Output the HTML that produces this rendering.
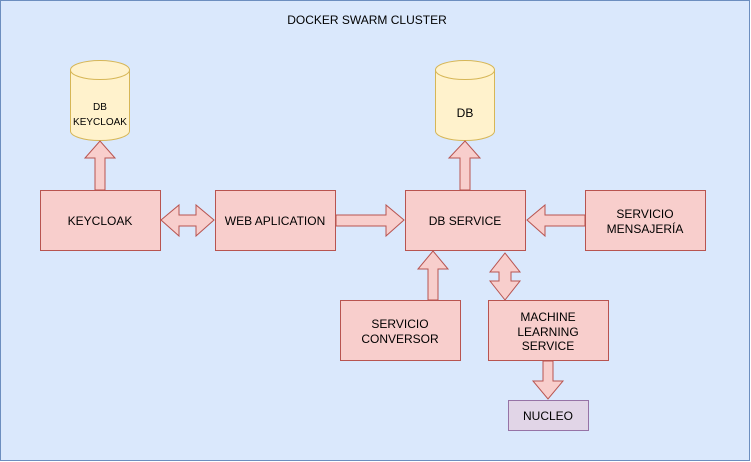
<!DOCTYPE html>
<html><head><meta charset="utf-8"><style>
html,body{margin:0;padding:0;background:#fff}
svg{display:block}
text{font-family:"Liberation Sans",Helvetica,sans-serif;font-size:12px;fill:#000}
</style></head><body>
<svg width="751" height="462" viewBox="0 0 751 462" xmlns="http://www.w3.org/2000/svg">
<rect x="0.5" y="0.5" width="749" height="460" fill="#dae8fc" stroke="#6c8ebf"/>
<text x="367" y="24" text-anchor="middle">DOCKER SWARM CLUSTER</text>

<g fill="#fff2cc" stroke="#d6b656">
<path d="M70.5 70 A29.5 9.5 0 0 1 129.5 70 L129.5 131 A29.5 9.5 0 0 1 70.5 131 Z"/>
<path d="M70.5 70 A29.5 9.5 0 0 0 129.5 70" fill="none"/>
<path d="M435.5 70 A29.5 9.5 0 0 1 494.5 70 L494.5 131 A29.5 9.5 0 0 1 435.5 131 Z"/>
<path d="M435.5 70 A29.5 9.5 0 0 0 494.5 70" fill="none"/>
</g>
<text x="100" y="110" text-anchor="middle" style="font-size:10px">DB</text>
<text x="100" y="125" text-anchor="middle" style="font-size:10px">KEYCLOAK</text>
<text x="465" y="117" text-anchor="middle">DB</text>

<g fill="#f8cecc" stroke="#b85450">
<!-- keycloak -> db keycloak -->
<path d="M95 190 L95 158 L85 158 L100 141 L115 158 L105 158 L105 190 Z"/>
<!-- db service -> db -->
<path d="M460 190 L460 158 L449 158 L465 141 L480 158 L470 158 L470 190 Z"/>
<!-- keycloak <-> web -->
<path d="M161 220 L179 205 L179 215 L196 215 L196 205 L214 220 L196 236 L196 226 L179 226 L179 236 Z"/>
<!-- web -> db service -->
<path d="M336 215 L386 215 L386 205 L404 220 L386 236 L386 226 L336 226 Z"/>
<!-- mensajeria -> db service -->
<path d="M585 215 L545 215 L545 205 L527 220 L545 236 L545 226 L585 226 Z"/>
<!-- conversor -> db service -->
<path d="M428 300 L428 269 L418 269 L433 251 L448 269 L438 269 L438 300 Z"/>
<!-- db service <-> ml -->
<path d="M505 253 L520 272 L511 272 L511 281 L520 281 L505 300 L490 281 L499 281 L499 272 L490 272 Z"/>
<!-- ml -> nucleo -->
<path d="M543 361 L543 381 L533 381 L548 399 L563 381 L553 381 L553 361 Z"/>

<rect x="40.5" y="190.5" width="120" height="60"/>
<rect x="215.5" y="190.5" width="120" height="60"/>
<rect x="405.5" y="190.5" width="120" height="60"/>
<rect x="585.5" y="190.5" width="120" height="60"/>
<rect x="340.5" y="300.5" width="120" height="60"/>
<rect x="488.5" y="300.5" width="120" height="60"/>
</g>
<rect x="508.5" y="400.5" width="80" height="30" fill="#e1d5e7" stroke="#9673a6"/>

<text x="100" y="225" text-anchor="middle">KEYCLOAK</text>
<text x="275" y="225" text-anchor="middle">WEB APLICATION</text>
<text x="465" y="225" text-anchor="middle">DB SERVICE</text>
<text x="645" y="218" text-anchor="middle">SERVICIO</text>
<text x="645" y="233" text-anchor="middle">MENSAJERÍA</text>
<text x="400" y="328" text-anchor="middle">SERVICIO</text>
<text x="400" y="343" text-anchor="middle">CONVERSOR</text>
<text x="548" y="321" text-anchor="middle">MACHINE</text>
<text x="548" y="336" text-anchor="middle">LEARNING</text>
<text x="548" y="350" text-anchor="middle">SERVICE</text>
<text x="548" y="420" text-anchor="middle">NUCLEO</text>
</svg>
</body></html>
